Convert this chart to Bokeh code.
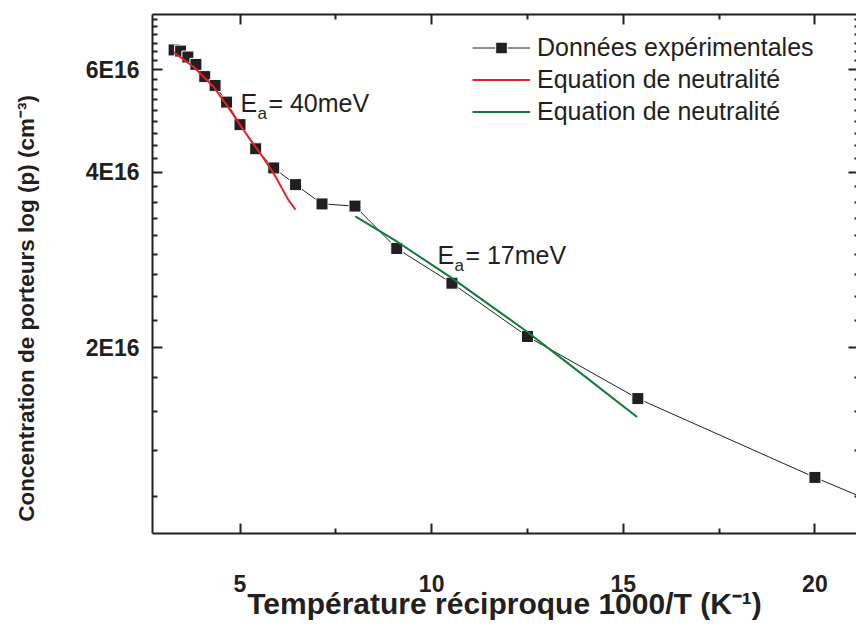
import math
from bokeh.plotting import figure
from bokeh.models import (Range1d, FixedTicker, LinearAxis, LogAxis, Label,
                          Legend, LegendItem, CustomJSTickFormatter)
from bokeh.embed import file_html
from bokeh.resources import INLINE

# ---- data ----
inv_T = [3.28, 3.45, 3.64, 3.85, 4.08, 4.35, 4.65, 5.00, 5.41, 5.88, 6.45,
         7.14, 8.00, 9.09, 10.53, 12.50, 15.38, 20.00, 25.00]
p_conc = [6.49e16, 6.46e16, 6.31e16, 6.13e16, 5.84e16, 5.64e16, 5.28e16,
          4.83e16, 4.39e16, 4.07e16, 3.81e16, 3.53e16, 3.50e16, 2.96e16,
          2.58e16, 2.09e16, 1.635e16, 1.197e16, 0.87e16]

fit40_x = [3.27, 3.80, 4.32, 4.75, 5.10, 5.54, 5.88, 6.27, 6.45]
fit40_y = [6.43e16, 6.06e16, 5.60e16, 5.11e16, 4.72e16, 4.30e16, 3.98e16,
           3.58e16, 3.45e16]

fit17_x = [8.01, 9.10, 10.54, 12.49, 13.88, 15.36]
fit17_y = [3.36e16, 3.04e16, 2.63e16, 2.13e16, 1.81e16, 1.52e16]

x_major = [5, 10, 15, 20]
x_minor = [7.5, 12.5, 17.5]
y_major = [2e16, 4e16, 6e16]
y_minor = [k * 2e16 / 9 for k in range(4, 34) if k % 9 != 0]

TXT = "#231F20"
FONT = "Liberation Sans"

p = figure(width=856, height=626,
           x_range=Range1d(2.717, 21.085), y_range=Range1d(0.959e16, 7.466e16),
           y_axis_type="log", output_backend="svg", toolbar_location=None,
           min_border_left=152, min_border_right=0, min_border_top=14,
           min_border_bottom=93)
p.xgrid.visible = False
p.ygrid.visible = False
p.outline_line_color = None
p.background_fill_color = "white"
p.border_fill_color = "white"

xt = FixedTicker(ticks=x_major, minor_ticks=x_minor)
yt = FixedTicker(ticks=y_major, minor_ticks=y_minor)


def style(ax, labels=True):
    ax.axis_line_color = TXT
    ax.axis_line_width = 2
    ax.major_tick_line_color = TXT
    ax.minor_tick_line_color = TXT
    ax.major_tick_line_width = 2
    ax.minor_tick_line_width = 2
    ax.major_tick_in = 10
    ax.major_tick_out = 0
    ax.minor_tick_in = 5
    ax.minor_tick_out = 0
    if labels:
        ax.major_label_text_font = FONT
        ax.major_label_text_font_style = "bold"
        ax.major_label_text_font_size = "23px"
        ax.major_label_text_color = TXT
    else:
        ax.major_label_text_font_size = "1px"
        ax.major_label_text_color = None
        ax.major_label_standoff = 0


xa = p.xaxis[0]
xa.ticker = xt
style(xa)
xa.major_label_standoff = 41
xa.axis_label = "Température réciproque 1000/T (K⁻¹)"
xa.axis_label_text_font = FONT
xa.axis_label_text_font_style = "bold"
xa.axis_label_text_font_size = "30px"
xa.axis_label_text_color = TXT
xa.axis_label_standoff = -8

ya = p.yaxis[0]
ya.ticker = yt
style(ya)
ya.major_label_standoff = 13
ya.formatter = CustomJSTickFormatter(code="return (tick/1e16).toFixed(0) + 'E16';")
ya.axis_label = "Concentration de porteurs log (p) (cm⁻³)" + "\u00a0" * 11
ya.axis_label_text_font = FONT
ya.axis_label_text_font_style = "bold"
ya.axis_label_text_font_size = "22.5px"
ya.axis_label_text_color = TXT
ya.axis_label_standoff = 44

top = LinearAxis(ticker=xt)
style(top, labels=False)
p.add_layout(top, "above")

right = LogAxis(ticker=yt)
style(right, labels=False)
right.axis_line_color = None
right.major_tick_in = 8
right.minor_tick_in = 2
p.add_layout(right, "right")

# ---- glyphs ----
r_line = p.line(inv_T, p_conc, line_color=TXT, line_width=1)
r_sq = p.scatter(inv_T, p_conc, marker="square", size=12, fill_color=TXT,
                 line_color="white", line_width=1)
r_red = p.line(fit40_x, fit40_y, line_color="#E8202A", line_width=2)
r_green = p.line(fit17_x, fit17_y, line_color="#0E7D3A", line_width=2)

legend = Legend(items=[
    LegendItem(label="Données expérimentales", renderers=[r_line, r_sq]),
    LegendItem(label="Equation de neutralité", renderers=[r_red]),
    LegendItem(label="Equation de neutralité", renderers=[r_green]),
], location=(320, 407))
legend.border_line_color = None
legend.background_fill_alpha = 0
legend.label_text_font = FONT
legend.label_text_font_size = "25px"
legend.label_text_color = TXT
legend.glyph_width = 58
legend.glyph_height = 29
legend.label_height = 29
legend.spacing = 3
legend.padding = 0
legend.margin = 0
legend.label_standoff = 7
p.add_layout(legend)

# ---- annotations ----
def ea_label(x, y, rest):
    p.add_layout(Label(x=x, y=y, text="E", text_font=FONT, text_font_size="25px",
                       text_color=TXT, text_baseline="alphabetic"))
    p.add_layout(Label(x=x, y=y, text="a", x_offset=17, y_offset=-11, text_font=FONT,
                       text_font_size="17px", text_color=TXT, text_baseline="alphabetic"))
    p.add_layout(Label(x=x, y=y, text=rest, x_offset=28, text_font=FONT,
                       text_font_size="25px", text_color=TXT, text_baseline="alphabetic"))


ea_label(5.01, 5.27e16, "= 40meV")
ea_label(10.15, 2.89e16, "= 17meV")

open("out.html", "w").write(file_html(p, INLINE))
